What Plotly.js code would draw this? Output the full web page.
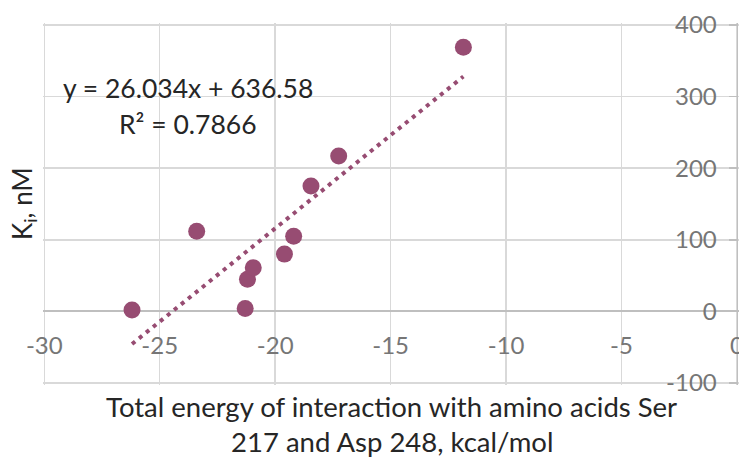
<!DOCTYPE html>
<html>
<head>
<meta charset="utf-8">
<script src="https://cdn.plot.ly/plotly-3.0.1.min.js"></script>
<style>html,body{margin:0;padding:0;background:#fff;}#chart{width:739px;height:457px;}</style>
</head>
<body>
<div id="chart"></div>
<script>
// Data
const energy = [-26.2, -23.4, -21.3, -21.2, -20.95, -19.6, -19.2, -18.45, -17.25, -11.85];
const ki     = [2, 112, 4, 45, 61, 80, 105, 175, 217, 369];
// Trendline coefficients as printed on the chart
const slope = 26.034;
const intercept = 636.58;
const r2 = 0.7866;
const xTicks = [-30, -25, -20, -15, -10, -5, 0];
const yTicks = [-100, 0, 100, 200, 300, 400];

const xMin = Math.min(...energy), xMax = Math.max(...energy);
const trendX = [xMin, xMax];
const trendY = trendX.map(v => slope * v + intercept);

const color = '#974c72';
const font = 'Lato, "Open Sans", sans-serif';
const textColor = '#262626';
const tickColor = '#767676';

// axis ranges padded slightly so the edge gridlines stay visible
const xRange = [-30.056, 0.087];
const yRange = [-102.8, 402.8];
const W = 739, H = 457, mL = 43, mR = 0, mT = 23, mB = 72;
const pw = W - mL - mR, ph = H - mT - mB;
const px = p => (p - mL) / pw;           // pixel -> paper x
const py = p => (H - mB - p) / ph;       // pixel -> paper y

const traces = [
  {x: trendX, y: trendY, mode: 'lines', type: 'scatter',
   line: {color: color, width: 4, dash: '4px,5px'}, hoverinfo: 'skip'},
  {x: energy, y: ki, mode: 'markers', type: 'scatter',
   marker: {color: color, size: 17}}
];

const layout = {
  width: W, height: H,
  margin: {l: mL, r: mR, t: mT, b: mB},
  paper_bgcolor: '#fff', plot_bgcolor: '#fff',
  showlegend: false,
  font: {family: font},
  xaxis: {
    range: xRange, tickvals: xTicks, ticktext: xTicks.map(String),
    showgrid: true, gridcolor: '#d9d9d9', gridwidth: 1.5,
    zeroline: false, showline: false, ticks: '',
    anchor: 'free', position: (0 - yRange[0]) / (yRange[1] - yRange[0]),
    ticklabelstandoff: 18, ticklabeloverflow: 'allow',
    tickfont: {family: font, size: 24, color: tickColor}
  },
  yaxis: {
    range: yRange, tickvals: yTicks, ticktext: yTicks.map(String),
    side: 'right', ticklabelposition: 'inside', ticklabeloverflow: 'allow',
    anchor: 'free', position: (0 - xRange[0]) / (xRange[1] - xRange[0]),
    ticklabelstandoff: 14,
    showgrid: true, gridcolor: '#d9d9d9', gridwidth: 1.5,
    zeroline: true, zerolinecolor: '#bfbfbf', zerolinewidth: 2.2,
    showline: true, linecolor: '#bfbfbf', linewidth: 1.5,
    ticks: 'inside', ticklen: 8, tickcolor: '#bfbfbf', tickwidth: 1.5,
    tickfont: {family: font, size: 24, color: tickColor}
  },
  annotations: [
    {text: 'y = 26.034x + 636.58', xref: 'paper', yref: 'paper',
     x: px(188), y: py(88), xanchor: 'center', yanchor: 'middle',
     showarrow: false, font: {family: font, size: 26.5, color: textColor}},
    {text: 'R² = ' + r2.toFixed(4), xref: 'paper', yref: 'paper',
     x: px(188), y: py(124), xanchor: 'center', yanchor: 'middle',
     showarrow: false, font: {family: font, size: 26.5, color: textColor}},
    {text: 'K<sub>i</sub>, nM', xref: 'paper', yref: 'paper',
     x: px(23), y: py(204), xanchor: 'center', yanchor: 'middle',
     textangle: -90, showarrow: false, font: {family: font, size: 26, color: textColor}},
    {text: 'Total energy of interaction with amino acids Ser', xref: 'paper', yref: 'paper',
     x: px(391.5), y: py(406), xanchor: 'center', yanchor: 'middle',
     showarrow: false, font: {family: font, size: 27.5, color: textColor}},
    {text: '217 and Asp 248, kcal/mol', xref: 'paper', yref: 'paper',
     x: px(391.5), y: py(441), xanchor: 'center', yanchor: 'middle',
     showarrow: false, font: {family: font, size: 27.5, color: textColor}}
  ]
};

Plotly.newPlot('chart', traces, layout, {displayModeBar: false, staticPlot: true});
</script>
</body>
</html>
